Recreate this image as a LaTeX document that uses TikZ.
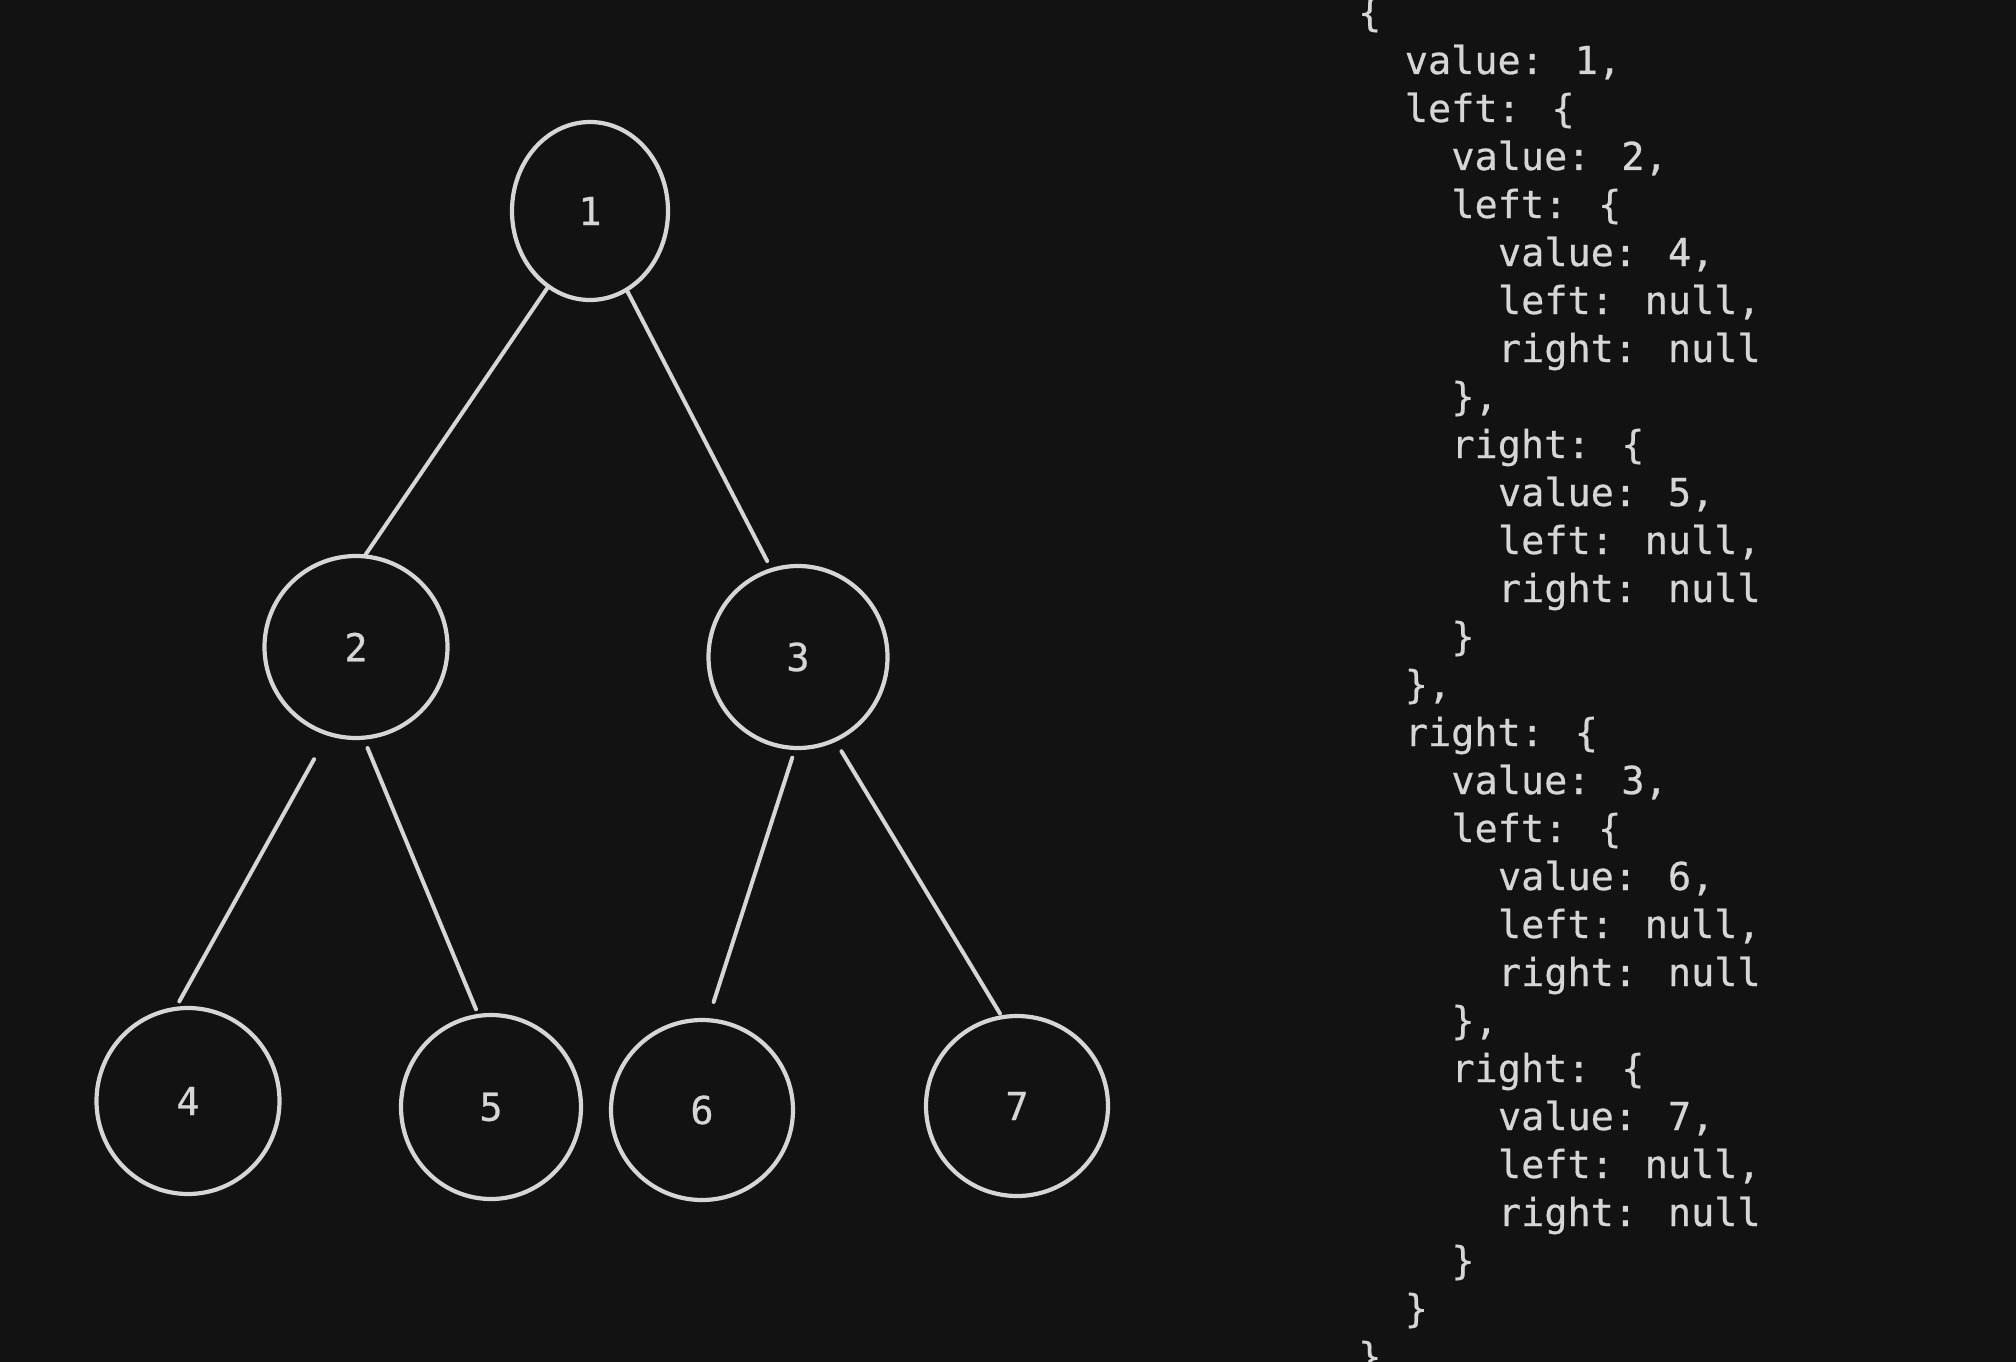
\documentclass[tikz,border=0pt]{standalone}
\usepackage{fontspec}
\usetikzlibrary{shapes.geometric}
\newfontfamily\codefont{DejaVu Sans Mono}[FakeBold=0.6]
\definecolor{bgc}{HTML}{121212}
\definecolor{inkc}{HTML}{D6D6D6}
\tikzset{
  treenode/.style={ellipse, draw=inkc, line width=4.2pt, inner sep=0pt,
    text=inkc, font={\codefont\fontsize{38.5pt}{48pt}\selectfont}},
  edgeline/.style={draw=inkc, line width=4pt, line cap=round},
  codeline/.style={anchor=base west, inner sep=0pt, text=inkc,
    font={\codefont\fontsize{38.5pt}{48pt}\selectfont}}
}
\begin{document}
\begin{tikzpicture}[x=1pt,y=-1pt]
\fill[bgc] (0,0) rectangle (2016,1362);
\useasboundingbox (0,0) rectangle (2016,1362);
% tree nodes
\node[treenode, minimum width=156pt, minimum height=178pt] (n1) at (590,211) {1};
\node[treenode, minimum width=183pt, minimum height=182pt] (n2) at (356,647) {2};
\node[treenode, minimum width=179pt, minimum height=182pt] (n3) at (798,657) {3};
\node[treenode, minimum width=183pt, minimum height=186pt] (n4) at (188,1101) {4};
\node[treenode, minimum width=180pt, minimum height=184pt] (n5) at (491,1107) {5};
\node[treenode, minimum width=182pt, minimum height=180pt] (n6) at (702,1110) {6};
\node[treenode, minimum width=182pt, minimum height=180pt] (n7) at (1017,1106) {7};
% edges
\draw[edgeline] (n1.241.6) -- (n2.84.5);
\draw[edgeline, shorten >=8pt] (n1.295.4) -- (n3.107);
\draw[edgeline, shorten <=27pt, shorten >=6pt] (n2.252.8) -- (n4.97.6);
\draw[edgeline, shorten <=9pt, shorten >=5pt] (n2.275.7) -- (n5.98.4);
\draw[edgeline, shorten <=8pt, shorten >=17pt] (n3.268.8) -- (n6.86.8);
\draw[edgeline, shorten <=11pt, shorten >=2pt] (n3.294.3) -- (n7.100.7);
% code text
\def\cx{1358}
\def\cw{23.3}
\node[codeline] (c0) at (\cx+0*\cw, 26) {\{};
\node[codeline] (c1) at (\cx+2*\cw, 74) {value: 1,};
\node[codeline] (c2) at (\cx+2*\cw, 122) {left: \{};
\node[codeline] (c3) at (\cx+4*\cw, 170) {value: 2,};
\node[codeline] (c4) at (\cx+4*\cw, 218) {left: \{};
\node[codeline] (c5) at (\cx+6*\cw, 266) {value: 4,};
\node[codeline] (c6) at (\cx+6*\cw, 314) {left: null,};
\node[codeline] (c7) at (\cx+6*\cw, 362) {right: null};
\node[codeline] (c8) at (\cx+4*\cw, 410) {\},};
\node[codeline] (c9) at (\cx+4*\cw, 458) {right: \{};
\node[codeline] (c10) at (\cx+6*\cw, 506) {value: 5,};
\node[codeline] (c11) at (\cx+6*\cw, 554) {left: null,};
\node[codeline] (c12) at (\cx+6*\cw, 602) {right: null};
\node[codeline] (c13) at (\cx+4*\cw, 650) {\}};
\node[codeline] (c14) at (\cx+2*\cw, 698) {\},};
\node[codeline] (c15) at (\cx+2*\cw, 746) {right: \{};
\node[codeline] (c16) at (\cx+4*\cw, 794) {value: 3,};
\node[codeline] (c17) at (\cx+4*\cw, 842) {left: \{};
\node[codeline] (c18) at (\cx+6*\cw, 890) {value: 6,};
\node[codeline] (c19) at (\cx+6*\cw, 938) {left: null,};
\node[codeline] (c20) at (\cx+6*\cw, 986) {right: null};
\node[codeline] (c21) at (\cx+4*\cw, 1034) {\},};
\node[codeline] (c22) at (\cx+4*\cw, 1082) {right: \{};
\node[codeline] (c23) at (\cx+6*\cw, 1130) {value: 7,};
\node[codeline] (c24) at (\cx+6*\cw, 1178) {left: null,};
\node[codeline] (c25) at (\cx+6*\cw, 1226) {right: null};
\node[codeline] (c26) at (\cx+4*\cw, 1274) {\}};
\node[codeline] (c27) at (\cx+2*\cw, 1322) {\}};
\node[codeline] (c28) at (\cx+0*\cw, 1370) {\}};
\end{tikzpicture}
\end{document}
